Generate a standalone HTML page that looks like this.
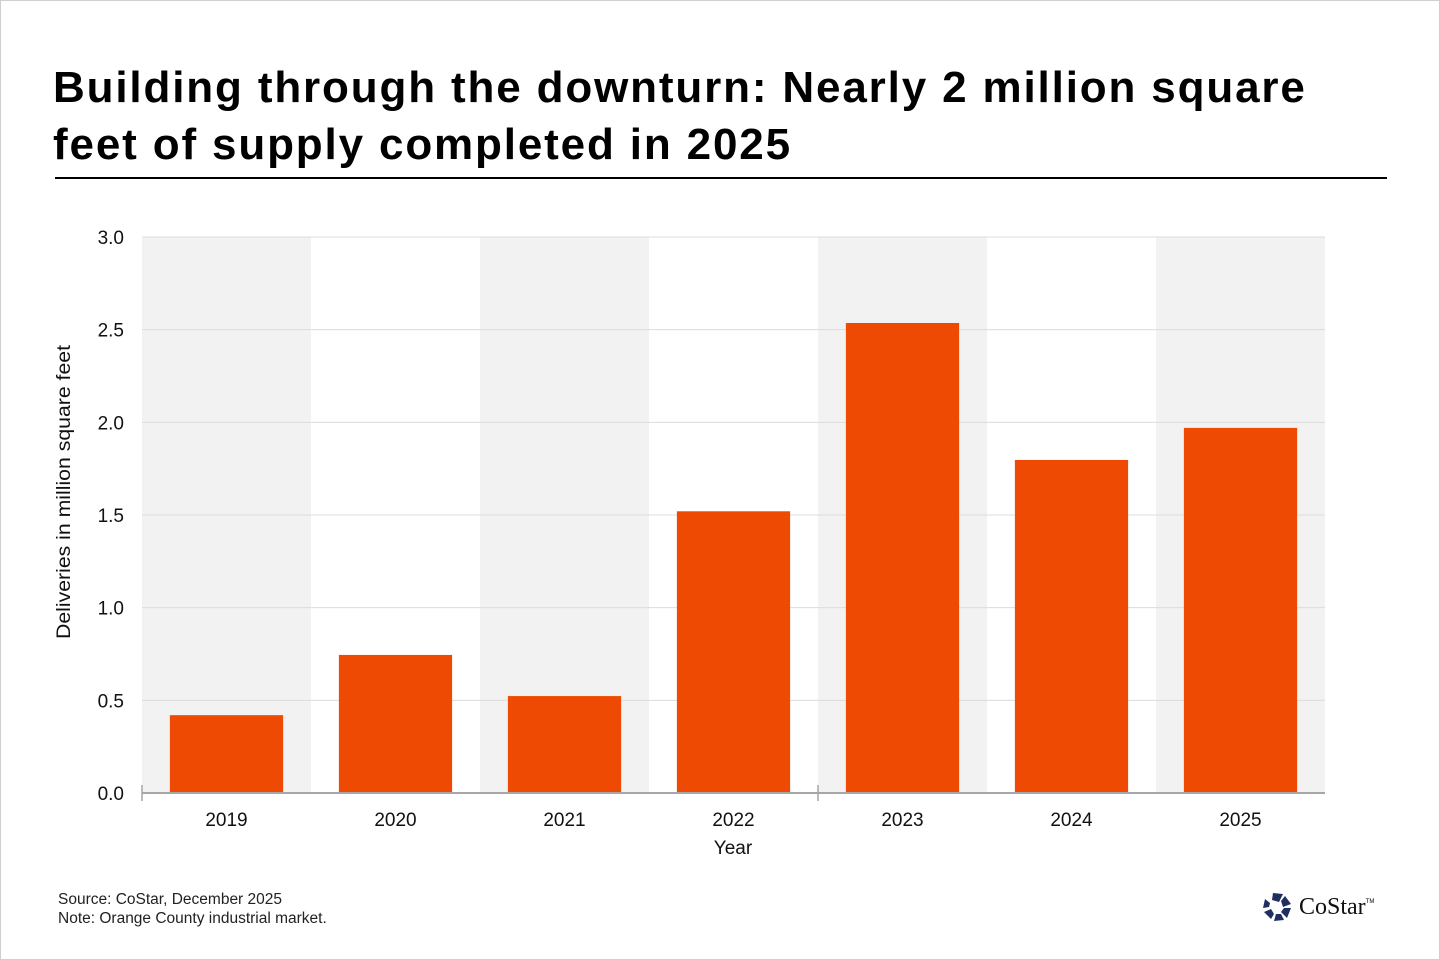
<!DOCTYPE html>
<html><head><meta charset="utf-8"><style>
body{margin:0;background:#fff;font-family:"Liberation Sans",Arial,sans-serif;}
#wrap{position:relative;width:1438px;height:958px;border:1px solid #cfcfcf;overflow:hidden;}
h1{position:absolute;left:52px;top:58px;margin:0;font-size:44px;line-height:57px;font-weight:bold;color:#000;width:1330px;letter-spacing:1.85px;}
.rule{position:absolute;left:54px;top:176px;width:1332px;height:2px;background:#000;}
.note{position:absolute;left:57px;font-size:15.5px;color:#222;}
</style></head><body>
<div id="wrap">
<h1>Building through the downturn: Nearly 2 million square feet of supply completed in 2025</h1>
<div class="rule"></div>
<svg id="chart" width="1440" height="960" style="position:absolute;left:-1px;top:-1px"></svg>
<div class="note" style="top:890px">Source: CoStar, December 2025</div>
<div class="note" style="top:909px">Note: Orange County industrial market.</div>
<div style="position:absolute;left:1260px;top:890px;display:flex;align-items:center">
<svg width="32" height="32" viewBox="0 0 32 32"><g fill="#1f2f5f">
<polygon points="12,2 22,3 18,11 11,9"/><polygon points="24,5 30,13 22,16 20,10"/><polygon points="30,17 26,27 20,21 23,17"/><polygon points="23,29 13,30 15,23 20,23"/><polygon points="10,28 3,21 10,18 13,23"/><polygon points="2,17 4,8 9,12 8,16"/></g></svg>
<span style="font-family:'Liberation Serif',serif;font-size:24px;color:#111;margin-left:6px">CoStar</span><span style="font-size:6px;margin-top:-10px">TM</span>
</div>
</div>
<script>
const categories=["2019","2020","2021","2022","2023","2024","2025"];
const values=[0.42,0.745,0.523,1.52,2.536,1.797,1.97];
const yTicks=[0,0.5,1,1.5,2,2.5,3];
const NS="http://www.w3.org/2000/svg";
const svg=document.getElementById("chart");
const x0=142,x1=1325,yb=793,yt=237,ymax=3;
const band=(x1-x0)/categories.length;
const X=i=>x0+i*band;
const Y=v=>yb-(v/ymax)*(yb-yt);
function el(t,a,txt){const e=document.createElementNS(NS,t);for(const k in a)e.setAttribute(k,a[k]);if(txt!=null)e.textContent=txt;svg.appendChild(e);return e;}
categories.forEach((c,i)=>{if(i%2===0){const r=el("rect",{x:X(i),y:yt,width:band,height:yb-yt,fill:"#f2f2f2"});

}});
yTicks.forEach(t=>{if(t>0){const l=el("line",{x1:x0,x2:x1,y1:Y(t),y2:Y(t),stroke:"#dcdcdc","stroke-width":1});

}
const tx=el("text",{x:124,y:Y(t)+7,"text-anchor":"end","font-size":19,fill:"#111"},t.toFixed(1));

});
values.forEach((v,i)=>{const pad=band*0.165;const r=el("rect",{x:X(i)+pad,y:Y(v),width:band-2*pad,height:yb-Y(v),fill:"#ee4a03"});


const t=el("text",{x:X(i)+band/2,y:826,"text-anchor":"middle","font-size":19,fill:"#111"},categories[i]);

});
const ax=el("line",{x1:x0,x2:x1,y1:yb,y2:yb,stroke:"#a6a6a6","stroke-width":2});


[x0,X(4)].forEach(x=>{const k=el("line",{x1:x,x2:x,y1:yb-8,y2:yb+8,stroke:"#a6a6a6","stroke-width":1.5});

});
const xt=el("text",{x:733,y:854,"text-anchor":"middle","font-size":19,fill:"#111"},"Year");


const yt2=el("text",{x:0,y:0,"text-anchor":"middle","font-size":19,textLength:294,lengthAdjust:"spacingAndGlyphs",fill:"#111",transform:"translate(70,492) rotate(-90)"},"Deliveries in million square feet");


</script>
</body></html>
